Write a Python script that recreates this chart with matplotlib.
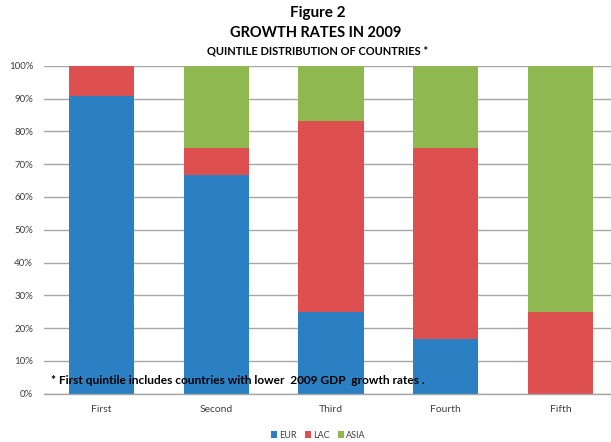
import matplotlib
matplotlib.use("Agg")
import matplotlib.pyplot as plt
import numpy as np
from matplotlib.ticker import FuncFormatter

plt.rcParams['font.family'] = ['Lato', 'DejaVu Sans']

categories = ["First", "Second", "Third", "Fourth", "Fifth"]
eur = [90.9, 66.7, 25.0, 16.7, 0.0]
lac = [9.1, 8.3, 58.3, 58.3, 25.0]
asia = [0.0, 25.0, 16.7, 25.0, 75.0]

series = [("EUR", eur, "#2A80C2"), ("LAC", lac, "#DE4F4F"), ("ASIA", asia, "#8FB950")]

fig = plt.figure(figsize=(6.11, 4.42), dpi=100)
ax = fig.add_axes([44.2 / 611, 48.5 / 442, 573.6 / 611, 327.5 / 442])

x = np.arange(len(categories))
bottom = np.zeros(len(categories))
handles = []
for name, vals, color in series:
    vals = np.array(vals)
    h = ax.bar(x, vals, width=0.567, bottom=bottom, color=color, label=name, zorder=2)
    handles.append(h)
    bottom += vals

ax.set_xlim(-0.5, 4.5)
ax.set_ylim(0, 100)
ax.set_yticks(np.arange(0, 101, 10))
ax.yaxis.set_major_formatter(FuncFormatter(lambda v, p: f"{int(v)}%"))
ax.grid(axis="y", color="#A6A6A6", linewidth=1.0, zorder=0)
ax.set_axisbelow(True)
for s in ["top", "right", "left"]:
    ax.spines[s].set_visible(False)
ax.spines["bottom"].set_color("#A6A6A6")
ax.spines["bottom"].set_linewidth(1.0)
ax.tick_params(axis="y", length=0, pad=8, labelsize=7, labelcolor="#404040")
ax.tick_params(axis="x", length=0, pad=8, labelsize=7.5, labelcolor="#404040")
ax.set_xticks(x)
ax.set_xticklabels(categories)

fig.text(318 / 611, 1 - 13 / 442, "Figure 2", ha="center", va="center",
         fontsize=11, fontweight="bold", color="#000000")
fig.text(316 / 611, 1 - 33 / 442, "GROWTH RATES IN 2009", ha="center", va="center",
         fontsize=10.5, fontweight="bold", color="#000000")
fig.text(318 / 611, 1 - 51 / 442, "QUINTILE DISTRIBUTION OF COUNTRIES *", ha="center",
         va="center", fontsize=8, fontweight="bold", color="#000000")

fig.text(51 / 611, 1 - 381 / 442,
         "* First quintile includes countries with lower  2009 GDP  growth rates .",
         ha="left", va="center", fontsize=8.6, fontweight="bold", color="#000000")

fig.legend(handles=handles, labels=[s[0] for s in series], loc="center",
           bbox_to_anchor=(318 / 611, 1 - 435 / 442), ncol=3, frameon=False,
           fontsize=6.5, handlelength=0.7, handleheight=0.7, handletextpad=0.2,
           columnspacing=0.9, labelcolor="#404040")

fig.savefig("out.png", dpi=100)
